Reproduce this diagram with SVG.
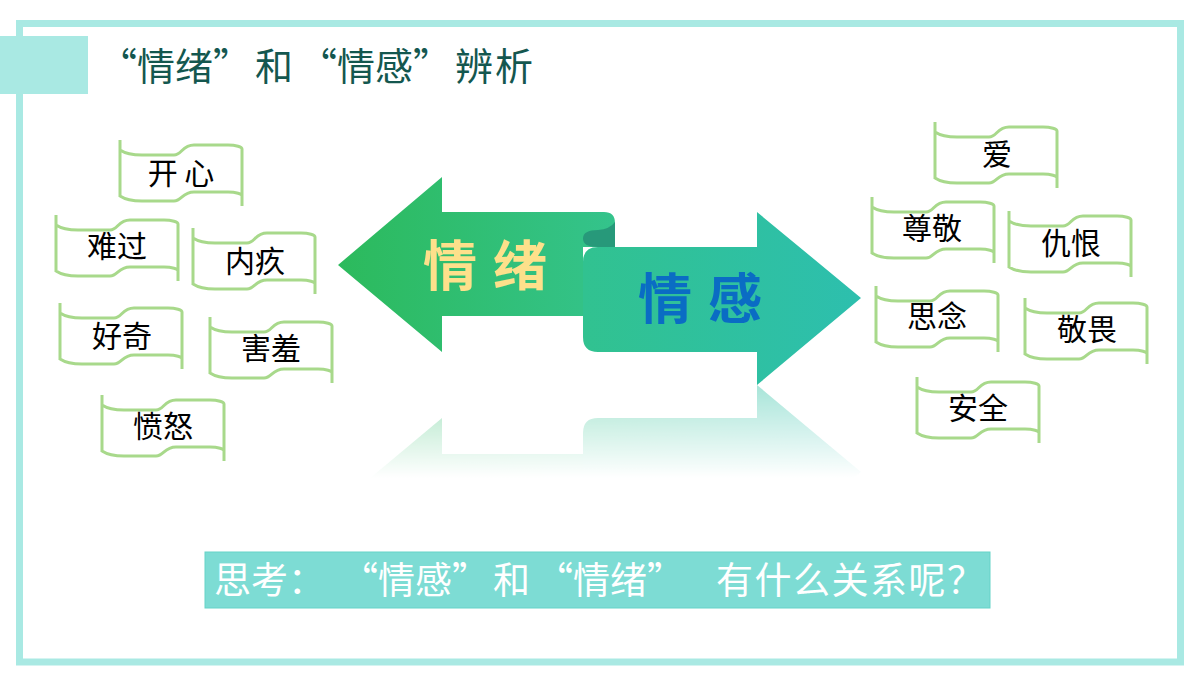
<svg xmlns="http://www.w3.org/2000/svg" xmlns:xlink="http://www.w3.org/1999/xlink" width="1200" height="675" viewBox="0 0 1200 675">
<style>
.cjk{font-family:"Noto Sans CJK SC","Liberation Sans",sans-serif}
.fl-line{fill:none;stroke:#a8d98b;stroke-width:3}
.fl-bg{fill:#ffffff;stroke:none}
.fl-text{font-family:"Noto Sans CJK SC","Liberation Sans",sans-serif;font-size:30px;fill:#000000;text-anchor:middle}
</style>
<defs>
<linearGradient id="gl" gradientUnits="userSpaceOnUse" x1="338" y1="0" x2="615" y2="0"><stop offset="0" stop-color="#2cba5c"/><stop offset="1" stop-color="#34c38c"/></linearGradient>
<linearGradient id="gr" gradientUnits="userSpaceOnUse" x1="583" y1="0" x2="861" y2="0"><stop offset="0" stop-color="#31c290"/><stop offset="1" stop-color="#2dbfae"/></linearGradient>
<linearGradient id="fade" gradientUnits="userSpaceOnUse" x1="0" y1="385" x2="0" y2="478"><stop offset="0" stop-color="#fff" stop-opacity="0.42"/><stop offset="1" stop-color="#fff" stop-opacity="0"/></linearGradient>
<mask id="rmask" maskUnits="userSpaceOnUse" x="300" y="380" width="600" height="110"><rect x="300" y="380" width="600" height="110" fill="url(#fade)"/></mask>
<g id="flagshape">
<path class="fl-bg" d="M0,10 C6,14 12,15 22,15 L54,15 C62,15 62,5 74,5 L108,5 C116,5 122,7 122,9 L122,56 C122,54 116,52 108,52 L74,52 C62,52 62,61 54,61 L22,61 C12,61 6,60 0,56 Z"/>
<path class="fl-line" d="M0,0 V57 M0,10 C6,14 12,15 22,15 L54,15 C62,15 62,5 74,5 L108,5 C116,5 122,7 122,9 M122,9 V66 M0,56 C6,60 12,61 22,61 L54,61 C62,61 62,52 74,52 L108,52 C116,52 122,54 122,56"/>
</g>
<g id="arrowshape">
<path d="M598,247 L757,247 L757,212 L861,298 L757,385 L757,352 L598,352 Q583,352 583,337 L583,262 Q583,247 598,247 Z" fill="url(#gr)"/>
<path d="M338,265 L442,177 L442,212 L604,212 Q615,212 615,223 L615,247 L583,247 L583,316 L442,316 L442,352 Z" fill="url(#gl)"/>
<path d="M615,247 L598,247 Q583,247 583,238.5 Q583,230 598,230 Q610,229 615,222 Z" fill="#27997a"/>
</g>
</defs>
<rect x="0" y="0" width="1200" height="675" fill="#ffffff"/>
<g id="frame">
<rect x="19.5" y="23.5" width="1161" height="638.5" fill="none" stroke="#a9e9e3" stroke-width="7"/>
<rect x="0" y="36" width="88" height="58" fill="#a9e9e3"/>
</g>
<g id="title">
<text class="cjk" y="80" font-size="38" fill="#14574f"><tspan x="99">“情绪”</tspan><tspan x="255">和</tspan><tspan x="299">“情感”</tspan><tspan x="455" letter-spacing="2">辨析</tspan></text>
</g>
<g id="arrows">
<use xlink:href="#arrowshape"/>
<g mask="url(#rmask)"><use xlink:href="#arrowshape" transform="matrix(1,0,0,-1,0,770)"/></g>
<text class="cjk" x="423" y="286" font-size="54" font-weight="bold" fill="#fde08b" letter-spacing="16">情绪</text>
<text class="cjk" x="638" y="319" font-size="54" font-weight="bold" fill="#0a6cc4" letter-spacing="16">情感</text>
</g>
<g id="flag-kaixin" transform="translate(120,140)"><use xlink:href="#flagshape"/><text class="fl-text" x="61" y="44">开 心</text></g>
<g id="flag-nanguo" transform="translate(56,215)"><use xlink:href="#flagshape"/><text class="fl-text" x="61" y="42">难过</text></g>
<g id="flag-neijiu" transform="translate(193,228)"><use xlink:href="#flagshape"/><text class="fl-text" x="62" y="44">内疚</text></g>
<g id="flag-haoqi" transform="translate(60,303)"><use xlink:href="#flagshape"/><text class="fl-text" x="62" y="44">好奇</text></g>
<g id="flag-haixiu" transform="translate(210,317)"><use xlink:href="#flagshape"/><text class="fl-text" x="61" y="42">害羞</text></g>
<g id="flag-fennu" transform="translate(102,395)"><use xlink:href="#flagshape"/><text class="fl-text" x="61" y="42">愤怒</text></g>
<g id="flag-ai" transform="translate(935,122)"><use xlink:href="#flagshape"/><text class="fl-text" x="62" y="43">爱</text></g>
<g id="flag-zunjing" transform="translate(872,197)"><use xlink:href="#flagshape"/><text class="fl-text" x="60" y="42">尊敬</text></g>
<g id="flag-chouhen" transform="translate(1009,211)"><use xlink:href="#flagshape"/><text class="fl-text" x="62" y="43">仇恨</text></g>
<g id="flag-sinian" transform="translate(876,286)"><use xlink:href="#flagshape"/><text class="fl-text" x="61" y="41">思念</text></g>
<g id="flag-jingwei" transform="translate(1025,298)"><use xlink:href="#flagshape"/><text class="fl-text" x="62" y="42">敬畏</text></g>
<g id="flag-anquan" transform="translate(917,377)"><use xlink:href="#flagshape"/><text class="fl-text" x="61" y="42">安全</text></g>
<g id="question">
<rect x="205" y="552" width="785" height="56" fill="#7ddcd4" stroke="#66d3c8" stroke-width="1"/>
<text class="cjk" y="594" font-size="37" fill="#ffffff"><tspan x="214">思考：</tspan><tspan x="341">“情感”</tspan><tspan x="493">和</tspan><tspan x="536">“情绪”</tspan><tspan x="716" letter-spacing="1.5">有什么关系呢？</tspan></text>
</g>
</svg>
